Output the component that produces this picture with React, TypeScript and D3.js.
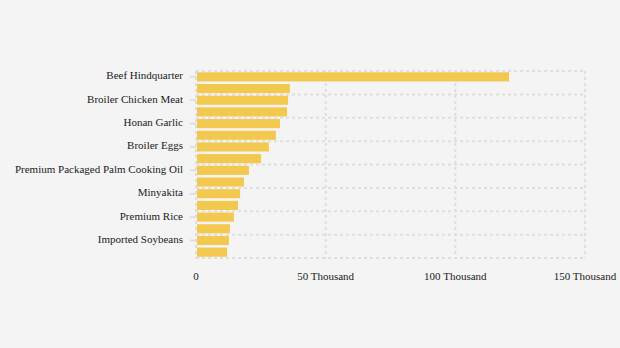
import React from "react";
import * as d3 from "d3";

const categories = [
  "Beef Hindquarter",
  "Beef Shoulder",
  "Broiler Chicken Meat",
  "Red Curly Chili",
  "Honan Garlic",
  "Shallots",
  "Broiler Eggs",
  "Bird's Eye Chili",
  "Premium Packaged Palm Cooking Oil",
  "Bulk Cooking Oil",
  "Minyakita",
  "Granulated Sugar",
  "Premium Rice",
  "Medium Rice",
  "Imported Soybeans",
  "Wheat Flour",
];
const values = [120700, 36200, 35500, 35100, 32400, 30800, 28100, 25100, 20400, 18500, 17000, 16200, 14600, 13100, 12700, 12000];
const xTicks = [0, 50000, 100000, 150000];
const xTickLabels = ["0", "50 Thousand", "100 Thousand", "150 Thousand"];

export default function App() {
  const W = 620, H = 348;
  const left = 196, right = 585, top = 71, bottom = 258;
  const x = d3.scaleLinear().domain([0, 150000]).range([left, right]);
  const y = d3.scaleBand<string>().domain(categories).range([top, bottom]).paddingInner(0.22).paddingOuter(0.11);
  const gridY = d3.range(0, categories.length + 1, 2).map((i) => top + i * ((bottom - top) / categories.length));
  const grid = "#dedede";
  return (
    <div style={{ position: "fixed", left: 0, top: 0 }}>
      <svg width={W} height={H} style={{ display: "block", background: "#f4f4f4" }} fontFamily="'Liberation Serif', 'Times New Roman', serif">
        <rect width={W} height={H} fill="#f4f4f4" />
        {gridY.map((gy, i) => (
          <line key={"gy" + i} x1={left} x2={right} y1={gy} y2={gy} stroke={grid} strokeWidth={2} strokeDasharray="3,3" />
        ))}
        {xTicks.map((t, i) => (
          <line key={"gx" + i} x1={x(t)} x2={x(t)} y1={top} y2={bottom} stroke={grid} strokeWidth={2} strokeDasharray="3,3" />
        ))}
        {categories.map((c, i) => (
          <rect key={"b" + i} x={x(0) + 1} y={y(c)!} width={x(values[i]) - x(0) - 1} height={y.bandwidth()} fill="#f2c84f" />
        ))}
        {categories.map((c, i) =>
          i % 2 === 0 ? (
            <g key={"l" + i}>
              <line x1={left - 6} x2={left} y1={y(c)! + y.bandwidth() / 2} y2={y(c)! + y.bandwidth() / 2} stroke={grid} strokeWidth={2} />
              <text x={left - 13} y={y(c)! + y.bandwidth() / 2 + 2.5} textAnchor="end" fontSize={11} fill="#1a1a1a">
                {c}
              </text>
            </g>
          ) : null
        )}
        {xTicks.map((t, i) => (
          <text key={"xt" + i} x={x(t)} y={280} textAnchor="middle" fontSize={11} fill="#1a1a1a">
            {xTickLabels[i]}
          </text>
        ))}
      </svg>
    </div>
  );
}
